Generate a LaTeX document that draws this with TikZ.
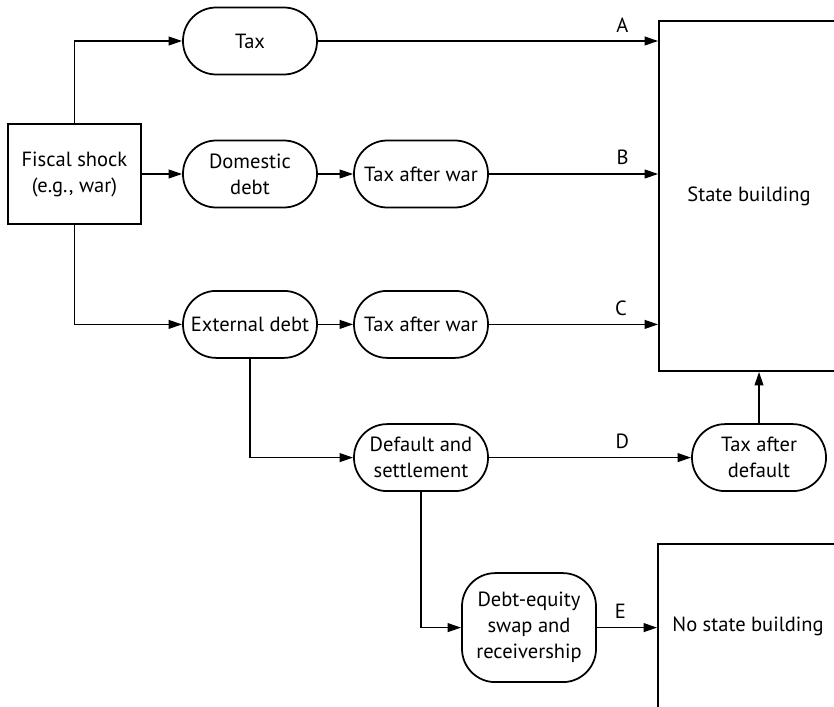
\documentclass[tikz,border=0pt]{standalone}
\usepackage{fontspec}
\setmainfont{PT Sans}
\usepackage{tikz}
\usetikzlibrary{calc, positioning, arrows.meta}
\tikzset{
    stage/.style={rectangle, draw=black, line width=1.25pt, fill=white, align=center, rounded corners=0.83cm, minimum width=3.35cm, minimum height=1.675cm, inner sep=1pt},
    shock/.style={rectangle, draw=black, line width=1.25pt, fill=white, align=center, minimum width=3.33cm, minimum height=2.5cm},
    outcome/.style={rectangle, draw=black, line width=1.25pt, align=center, minimum width=4.5cm},
    arrow/.style={-{Triangle[length=3.4mm, width=2.2mm]}, line width=1.25pt},
    path/.style={above=2mm, inner sep=0pt}
}

\begin{document}
\begin{tikzpicture}[font=\fontsize{14.6}{18.5}\selectfont]
    \useasboundingbox (0,0) rectangle (20.85,-17.675);
    \clip (0,0) rectangle (20.85,-17.675);

    % Shock and first stages
    \node[shock] (shock) at (1.86,-4.35) {Fiscal shock\\(e.g., war)};
    \node[stage] (tax) at (6.25,-1.025) {Tax};
    \node[stage] (ddebt) at (6.25,-4.35) {Domestic\\debt};
    \node[stage] (edebt) at (6.25,-8.11) {External debt};

    % Later stages
    \node[stage] (taxB) at (10.525,-4.35) {Tax after war};
    \node[stage] (taxC) at (10.525,-8.11) {Tax after war};
    \node[stage] (default) at (10.525,-11.44) {Default and\\settlement};
    \node[stage] (taxdef) at (18.975,-11.44) {Tax after\\default};
    \node[stage, minimum height=2.725cm] (swap) at (13.225,-15.69) {Debt-equity\\swap and\\receivership};

    % Outcomes (cut at the right edge)
    \node[outcome, minimum height=8.75cm] (state) at (18.725,-4.9) {State building};
    \node[outcome, minimum height=4.1cm] (nostate) at (18.7,-15.65) {No state building};

    % Connectors
    \draw[arrow] (shock.north) |- (tax.west);
    \draw[arrow] (shock.east) -- (ddebt.west);
    \draw[arrow] (shock.south) |- (edebt.west);
    \draw[arrow] (tax.east) -- node[path, pos=0.895] {A} (tax.east -| state.west);
    \draw[arrow] (ddebt) -- (taxB);
    \draw[arrow] (taxB.east) -- node[path, pos=0.79] {B} (taxB.east -| state.west);
    \draw[arrow] (edebt) -- (taxC);
    \draw[arrow] (taxC.east) -- node[path, pos=0.78] {C} (taxC.east -| state.west);
    \draw[arrow] (edebt.south) |- (default.west);
    \draw[arrow] (default) -- node[path, pos=0.66] {D} (taxdef);
    \draw[arrow] (taxdef.north) -- (taxdef.north |- state.south);
    \draw[arrow] (default.south) |- (swap.west);
    \draw[arrow] (swap.east) -- node[path, pos=0.39] {E} (swap.east -| nostate.west);
\end{tikzpicture}
\end{document}
